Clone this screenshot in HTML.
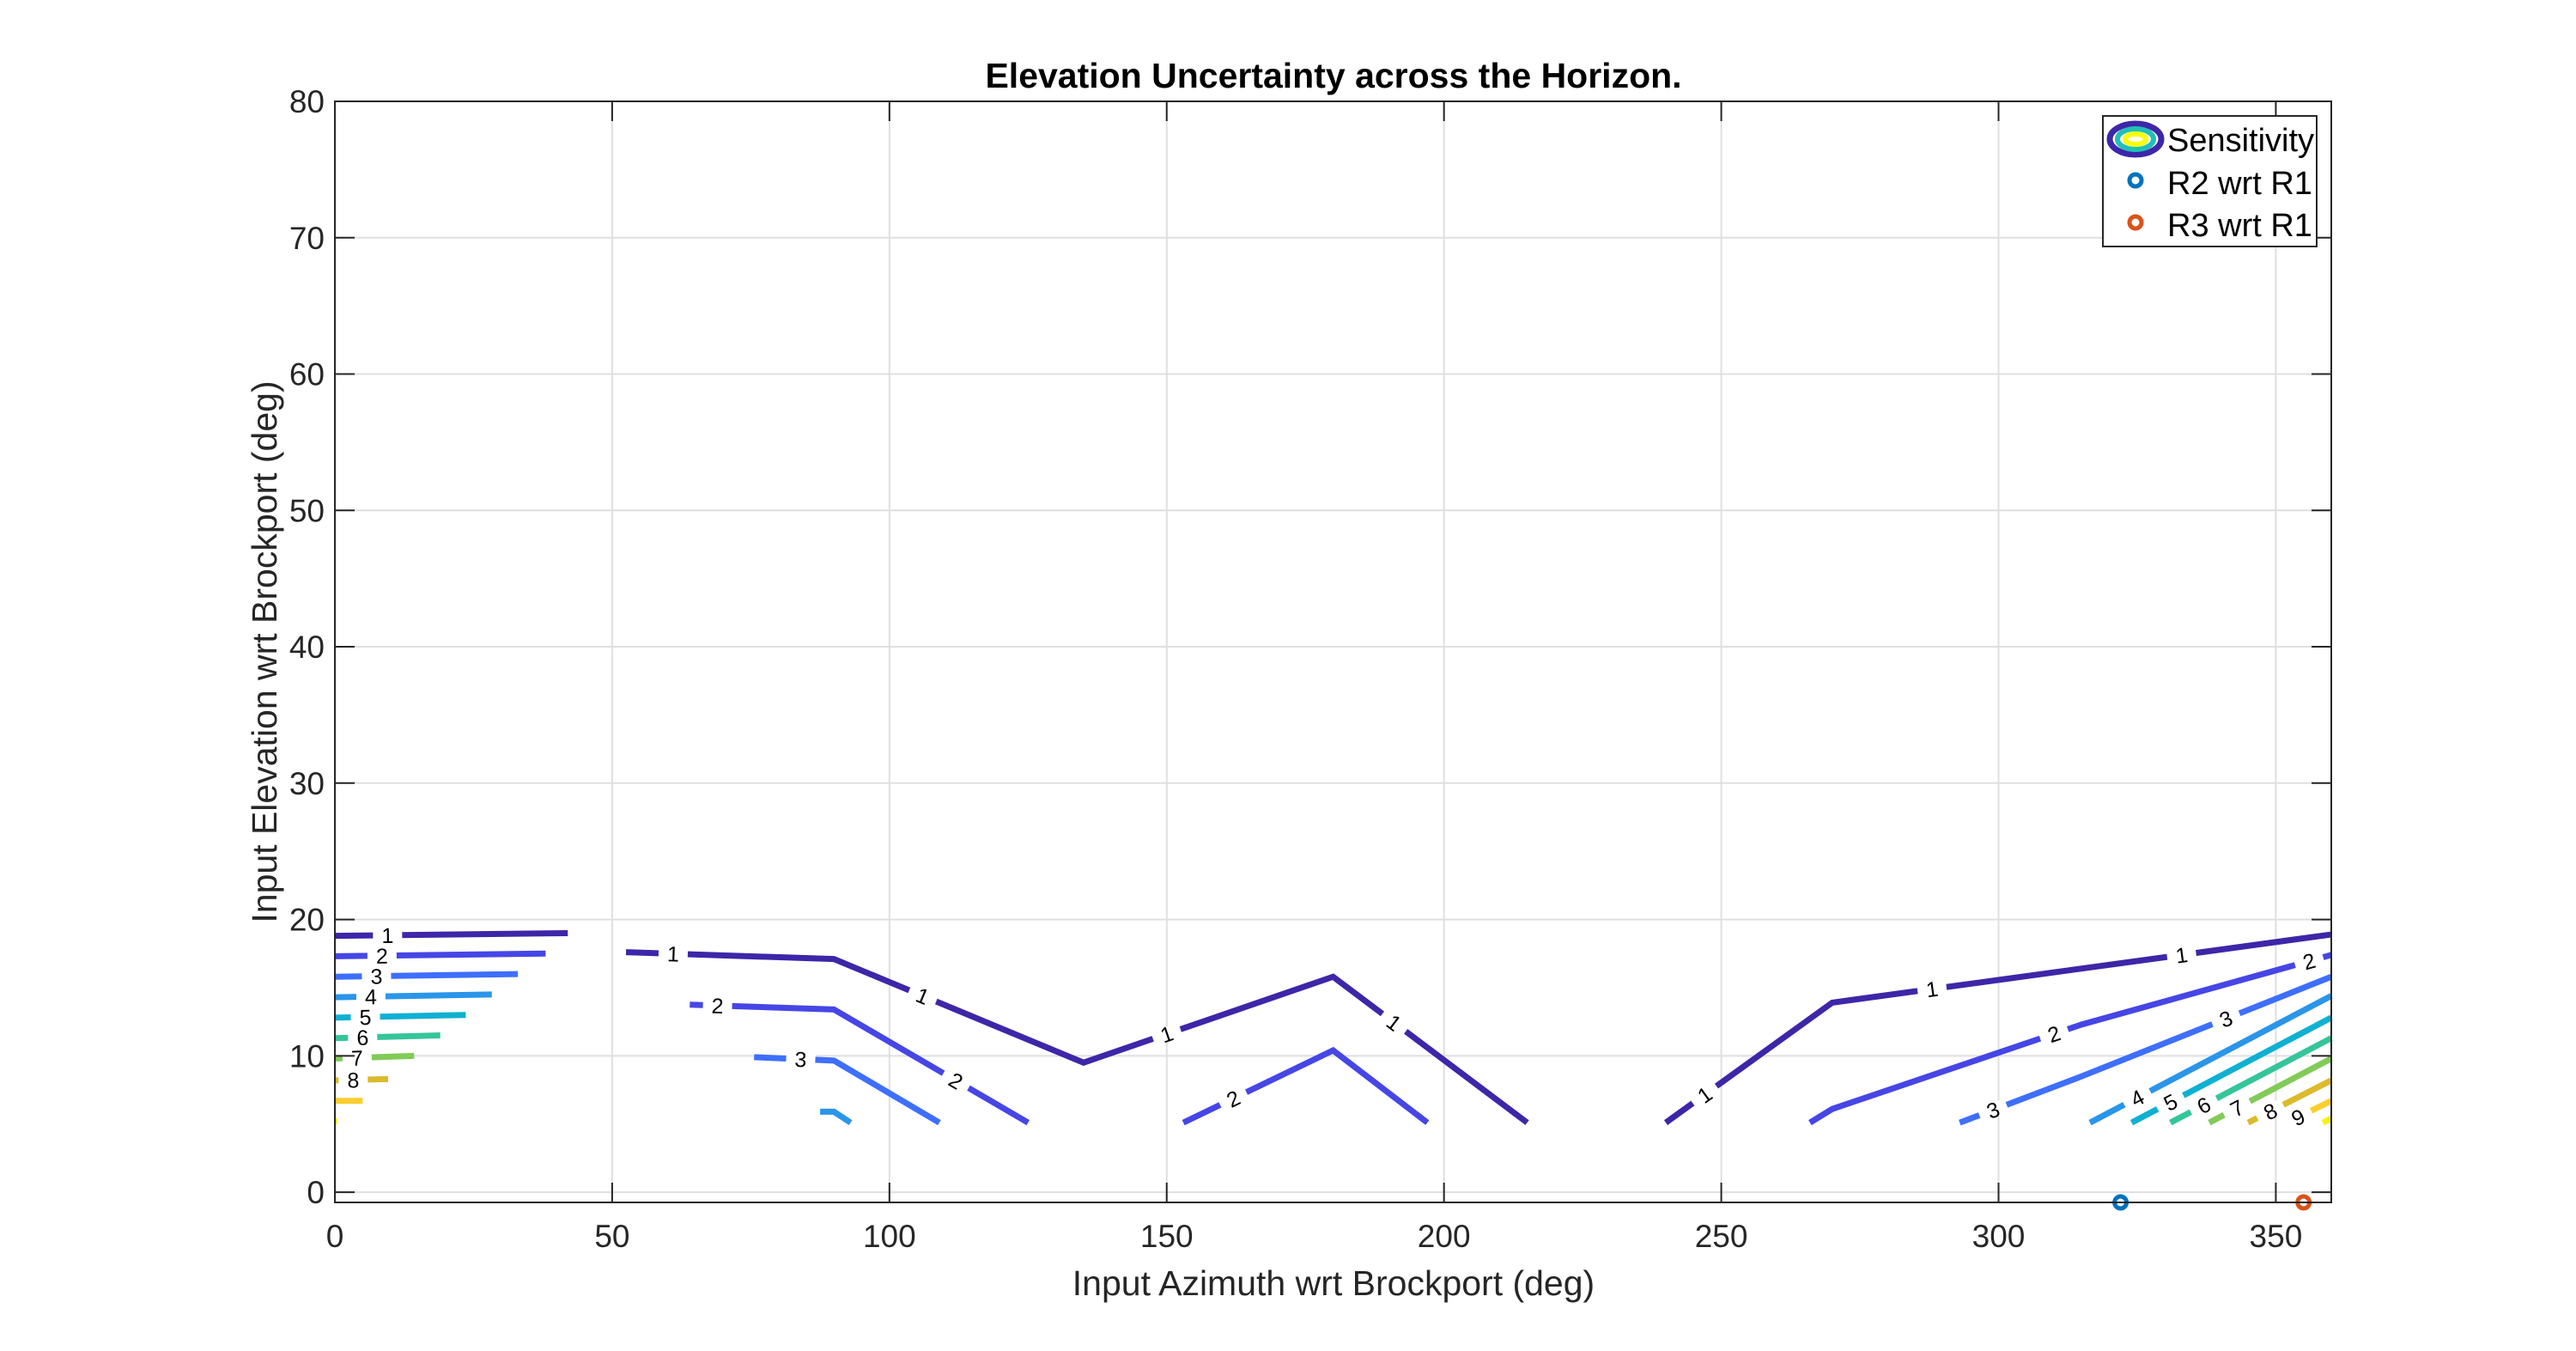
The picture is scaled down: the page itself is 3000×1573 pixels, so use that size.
<!DOCTYPE html>
<html><head><meta charset="utf-8"><style>
html,body{margin:0;padding:0;background:#fff;}
svg{display:block;font-family:"Liberation Sans",Arial,sans-serif;}
</style></head><body>
<svg id="chart" width="3000" height="1573" viewBox="0 0 3000 1573" xmlns="http://www.w3.org/2000/svg">
<rect x="0" y="0" width="3000" height="1573" fill="#fff"/>
<g id="grid"></g>
<g id="contours"></g>
<g id="axes"></g>
<text x="1553" y="102" font-size="41" font-weight="bold" text-anchor="middle" fill="#000">Elevation Uncertainty across the Horizon.</text>
<text x="1553" y="1508" font-size="41" text-anchor="middle" fill="#262626">Input Azimuth wrt Brockport (deg)</text>
<text transform="translate(322,759) rotate(-90)" font-size="41" text-anchor="middle" fill="#262626">Input Elevation wrt Brockport (deg)</text>
<g>
<rect x="2449" y="135" width="249" height="152" fill="#fff" stroke="#262626" stroke-width="2"/>
<g>
<ellipse cx="2487" cy="162" rx="30" ry="18" fill="none" stroke="#3e26a8" stroke-width="7"/>
<ellipse cx="2487" cy="162" rx="21" ry="12" fill="none" stroke="#20c0b6" stroke-width="6"/>
<ellipse cx="2487" cy="162" rx="12" ry="6" fill="none" stroke="#f9fb0e" stroke-width="6"/>
<text x="2524" y="176" font-size="38" fill="#000">Sensitivity</text></g>
<g>
<circle cx="2487" cy="210" r="7" fill="none" stroke="#0072bd" stroke-width="5"/>
<text x="2524" y="226" font-size="38" fill="#000">R2 wrt R1</text></g>
<g>
<circle cx="2487" cy="259" r="7" fill="none" stroke="#d95319" stroke-width="5"/>
<text x="2524" y="275" font-size="38" fill="#000">R3 wrt R1</text></g>
</g>
</svg>
<script>
const xTicks=[0,50,100,150,200,250,300,350];
const yTicks=[0,10,20,30,40,50,60,70,80];
const levels=[1,2,3,4,5,6,7,8,9,10];
const levelColors=["#3e26a8","#4646e6","#3e6ffc","#2a95e9","#10b0d3","#35c59a","#82cb58","#dcba2c","#fcce2e","#f4f50f"];
const contourLevel=[1,2,3,4,5,6,7,8,9,10, 1,2,2,3,4, 1,2,3,4,5,6,7,8,9,10];
const contourPts=[
[[0,18.8],[42,19.0]],
[[0,17.3],[38,17.5]],
[[0,15.8],[33,16.0]],
[[0,14.3],[28.3,14.5]],
[[0,12.8],[23.6,13.0]],
[[0,11.3],[19,11.5]],
[[0,9.8],[14.3,10.0]],
[[0,8.2],[9.6,8.3]],
[[0,6.7],[5,6.7]],
[[0,5.2],[0.4,5.2]],
[[52.5,17.6],[90,17.1],[135,9.5],[180,15.8],[215,5.1]],
[[64,13.75],[90,13.4],[125,5.1]],
[[153,5.1],[180,10.4],[197,5.1]],
[[75.6,9.9],[90,9.65],[109,5.1]],
[[87.5,5.9],[90,5.9],[93,5.1]],
[[240,5.1],[270,13.9],[360,18.9]],
[[266,5.1],[270,6.1],[315,12.3],[360,17.4]],
[[293,5.1],[315,8.5],[360,15.8]],
[[316.5,5.1],[360,14.4]],
[[324,5.1],[360,12.8]],
[[331,5.1],[360,11.3]],
[[338,5.1],[360,9.8]],
[[345,5.1],[360,8.2]],
[[352,5.1],[360,6.7]],
[[358.5,5.1],[360,5.4]]
];
const contourLabels=[[9.5],[8.5],[7.5],[6.5],[5.5],[5],[4],[3.3],[],[],
[61,106,150,191],[69,112],[162],[84],[],
[247,288,333],[310,356],[299,341],[325],[331],[337],[343],[349],[354],[]];
const r2Point=[322,-0.75];
const r3Point=[355,-0.75];

const NS="http://www.w3.org/2000/svg";
const L=390,R=2715,T=118,B=1400,XMIN=0,XMAX=360,YMIN=-0.75,YMAX=80;
function X(v){return L+(v-XMIN)*(R-L)/(XMAX-XMIN);}
function Y(v){return B-(v-YMIN)*(B-T)/(YMAX-YMIN);}
function mk(tag,attrs,parent){const e=document.createElementNS(NS,tag);for(const k in attrs)e.setAttribute(k,attrs[k]);parent.appendChild(e);return e;}
const grid=document.getElementById('grid'),axes=document.getElementById('axes'),cont=document.getElementById('contours');
xTicks.forEach(t=>{
  const g=mk('line',{x1:X(t),x2:X(t),y1:T,y2:B,stroke:'#dfdfdf','stroke-width':2},grid);
  
  const tk=mk('line',{x1:X(t),x2:X(t),y1:B,y2:B-23,stroke:'#262626','stroke-width':2},axes);
  
  const tk2=mk('line',{x1:X(t),x2:X(t),y1:T,y2:T+23,stroke:'#262626','stroke-width':2},axes);
  
  const tx=mk('text',{x:X(t),y:B+52,'font-size':37,'text-anchor':'middle',fill:'#262626'},axes);
  tx.textContent=t;
});
yTicks.forEach(t=>{
  const g=mk('line',{x1:L,x2:R,y1:Y(t),y2:Y(t),stroke:'#dfdfdf','stroke-width':2},grid);
  
  const tk=mk('line',{x1:L,x2:L+23,y1:Y(t),y2:Y(t),stroke:'#262626','stroke-width':2},axes);
  
  const tk2=mk('line',{x1:R,x2:R-23,y1:Y(t),y2:Y(t),stroke:'#262626','stroke-width':2},axes);
  
  const tx=mk('text',{x:L-12,y:Y(t)+13,'font-size':37,'text-anchor':'end',fill:'#262626'},axes);
  tx.textContent=t;
});
const box=mk('rect',{x:L,y:T,width:R-L,height:B-T,fill:'none',stroke:'#262626','stroke-width':2},axes);


function interp(pts,az){
  for(let i=0;i<pts.length-1;i++){const a=pts[i],b=pts[i+1];
    if(az>=a[0]&&az<=b[0]){const f=(b[0]===a[0])?0:(az-a[0])/(b[0]-a[0]);return [az,a[1]+f*(b[1]-a[1]),a,b];}}
  const a=pts[pts.length-2],b=pts[pts.length-1];return [az,b[1],a,b];
}
contourPts.forEach((pts,i)=>{
  const lv=contourLevel[i];const col=levelColors[levels.indexOf(lv)];
  const p=mk('polyline',{points:pts.map(q=>X(q[0])+','+Y(q[1])).join(' '),fill:'none',stroke:col,'stroke-width':7,'stroke-linejoin':'miter'},cont);
  
  
  contourLabels[i].forEach(az=>{
    const r=interp(pts,az);const px=X(r[0]),py=Y(r[1]);
    let ang=Math.atan2(Y(r[3][1])-Y(r[2][1]),X(r[3][0])-X(r[2][0]))*180/Math.PI;
    const g=mk('g',{transform:`translate(${px},${py}) rotate(${ang})`},cont);
    
    
    mk('rect',{x:-17,y:-8,width:34,height:16,fill:'#fff'},g);
    const t=mk('text',{x:0,y:9,'font-size':25,'text-anchor':'middle',fill:'#000'},g);
    t.textContent=lv;
  });
});
const m2=mk('circle',{cx:X(r2Point[0]),cy:Y(r2Point[1]),r:7,fill:'none',stroke:'#0072bd','stroke-width':5},cont);

const m3=mk('circle',{cx:X(r3Point[0]),cy:Y(r3Point[1]),r:7,fill:'none',stroke:'#d95319','stroke-width':5},cont);

</script>
</body></html>
